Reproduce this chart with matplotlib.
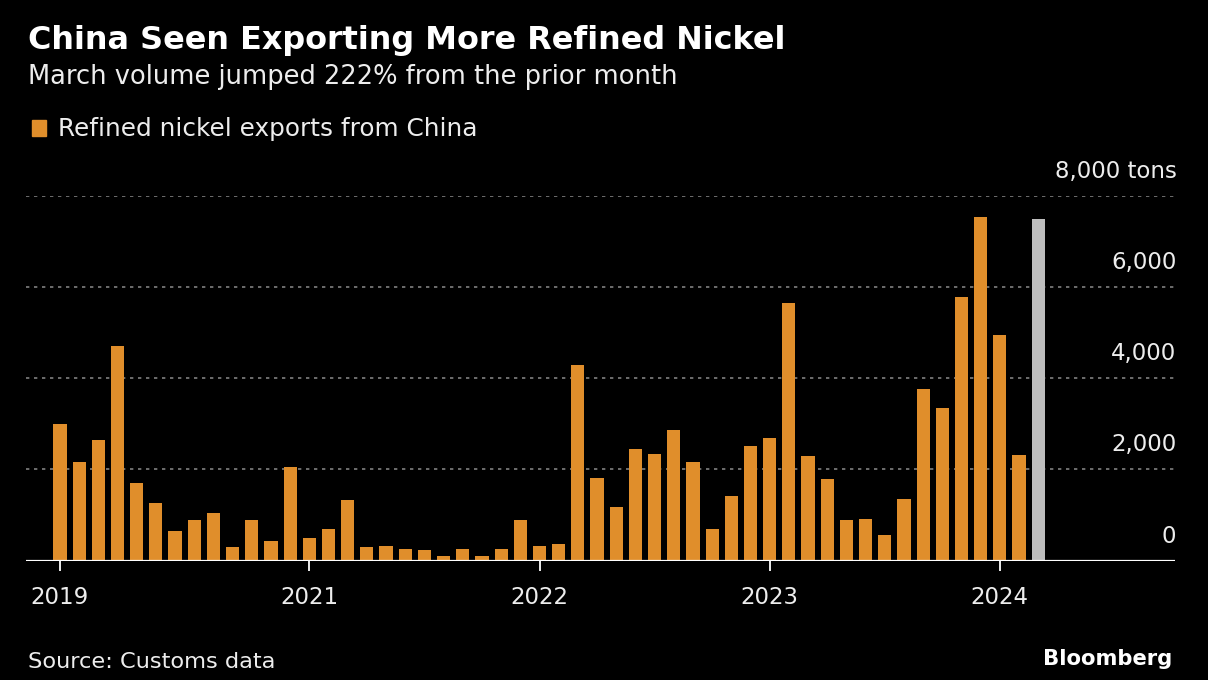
import numpy as np
import matplotlib
matplotlib.use("Agg")
import matplotlib.pyplot as plt
from matplotlib.transforms import offset_copy, blended_transform_factory

# ---------------- data ----------------
values = [
    3000, 2160, 2640, 4700, 1700, 1270, 660, 900, 1050, 310, 890, 430, 2050,
    500, 690, 1340, 290, 320, 263, 234, 103, 249, 103, 263, 898,
    329, 373, 4290, 1820, 1176, 2440, 2330, 2863, 2155, 688, 1411, 2513,
    2681, 5645, 2300, 1797, 891, 906, 563, 1358, 3755, 3352, 5770, 7536,
    4951, 2322, 7480,
]
highlight_index = len(values) - 1          # March 2024
tick_positions = [0, 13, 25, 37, 49]
tick_labels = ["2019", "2021", "2022", "2023", "2024"]
y_ticks = [0, 2000, 4000, 6000, 8000]
y_tick_labels = ["0", "2,000", "4,000", "6,000", "8,000 tons"]

title = "China Seen Exporting More Refined Nickel"
subtitle = "March volume jumped 222% from the prior month"
legend_label = "Refined nickel exports from China"
source = "Source: Customs data"
brand = "Bloomberg"

# ---------------- style ----------------
ORANGE = "#E08E2B"
GRAY = "#BDBDBD"
GRID = "#808080"
BG = "#000000"
W, H = 1208, 680

plt.rcParams["font.family"] = ["DejaVu Sans"]

fig = plt.figure(figsize=(W / 100, H / 100), dpi=100, facecolor=BG)


def fx(x):
    return x / W


def fy(y):
    return 1 - y / H


ax_left, ax_right, ax_top, ax_bottom = 26, 1175, 195.7, 560.7
ax = fig.add_axes([fx(ax_left), fy(ax_bottom), (ax_right - ax_left) / W,
                   (ax_bottom - ax_top) / H])
ax.set_facecolor(BG)

x = np.arange(len(values))
colors = [GRAY if i == highlight_index else ORANGE for i in range(len(values))]
ax.bar(x, values, width=0.69, color=colors, zorder=3)

ax.set_ylim(0, 8000)
ax.set_xlim(-1.77, 58.13)

for s in ax.spines.values():
    s.set_visible(False)

for yv in y_ticks[1:]:
    ax.axhline(yv, color=GRID, lw=1.2, ls=(0, (2.0, 2.8)), zorder=1)
ax.axhline(0, color="white", lw=1.6, zorder=4)

ax.set_yticks([])
ax.set_xticks(tick_positions)
ax.set_xticklabels(tick_labels, color="white", fontsize=16.5)
ax.tick_params(axis="x", colors="white", length=7, width=1.3, pad=11,
               direction="out")
for lab in ax.get_xticklabels():
    lab.set_color("#EDEDED")

# y tick labels at the right, above gridlines
trans = blended_transform_factory(ax.transAxes, ax.transData)
for yv, lab in zip(y_ticks, y_tick_labels):
    t = offset_copy(trans, fig=fig, x=1.5, y=13, units="dots")
    ax.text(1.0, yv, lab, transform=t, ha="right", va="bottom",
            color="#EDEDED", fontsize=16.5)

renderer = fig.canvas.get_renderer()


def fit(t, target_w):
    bb = t.get_window_extent(renderer)
    t.set_fontsize(t.get_fontsize() * target_w / bb.width)


t1 = fig.text(fx(28), fy(49.3), title, color="white", fontsize=22,
              fontweight="bold", ha="left", va="baseline")
fit(t1, 755)
t2 = fig.text(fx(28), fy(84.3), subtitle, color="#EDEDED", fontsize=18,
              ha="left", va="baseline")
fit(t2, 649)
t3 = fig.text(fx(58), fy(136), legend_label, color="#EDEDED", fontsize=18,
              ha="left", va="baseline")
fit(t3, 420)
fig.patches.append(plt.Rectangle((fx(32), fy(135.5)), 14 / W, 15 / H,
                                 transform=fig.transFigure, color=ORANGE,
                                 figure=fig))
t4 = fig.text(fx(28), fy(668), source, color="#EDEDED", fontsize=15,
              ha="left", va="baseline")
fit(t4, 247)
t5 = fig.text(fx(1172), fy(665), brand, color="white", fontsize=15,
              fontweight="bold", ha="right", va="baseline")
fit(t5, 130)

fig.savefig("out.png", dpi=100, facecolor=BG)
